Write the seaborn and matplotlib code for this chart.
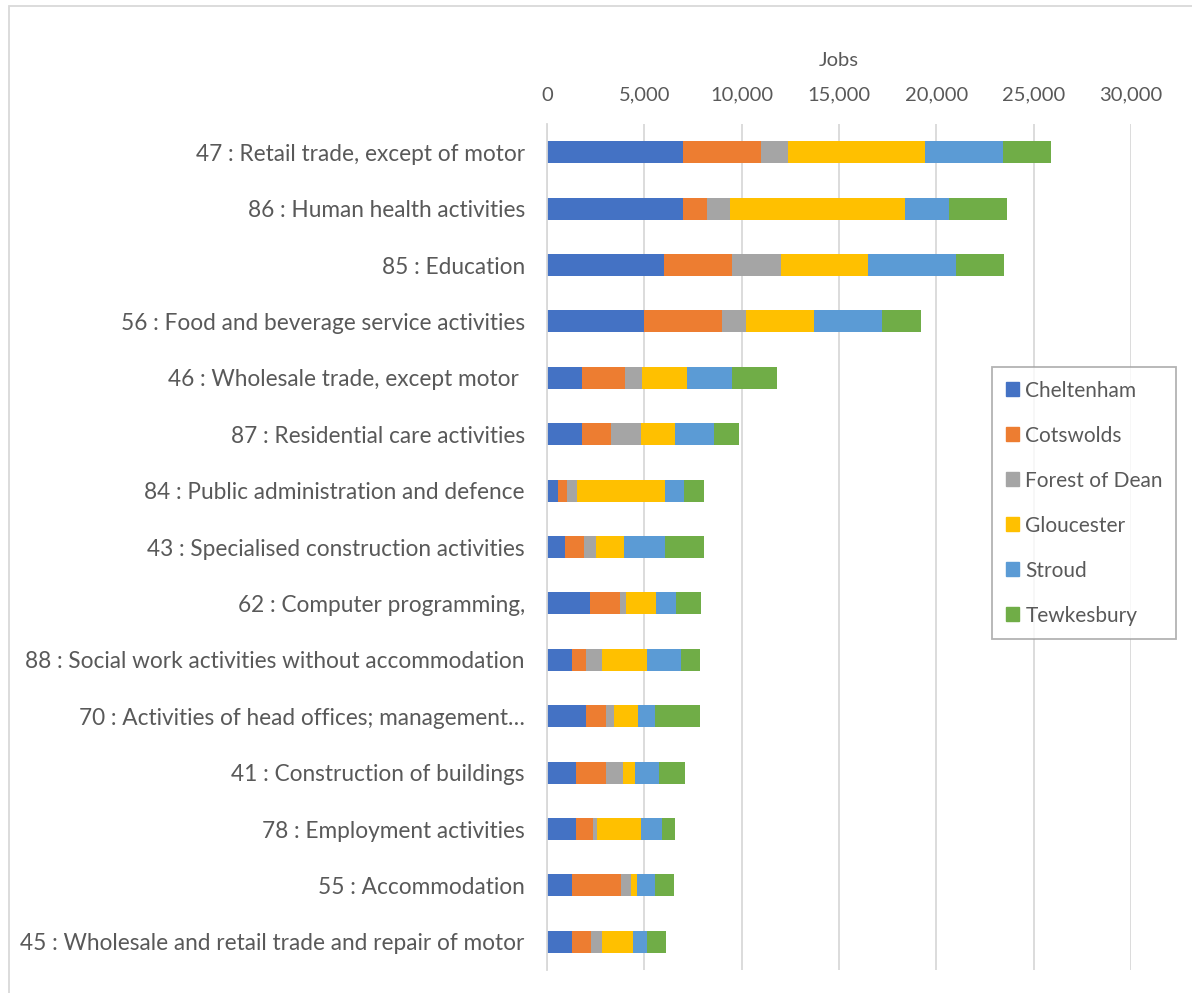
import pandas as pd
import numpy as np
import matplotlib.pyplot as plt
import matplotlib.patches as mpatches
import seaborn as sns

industries = ["47 : Retail trade, except of motor",
              "86 : Human health activities",
              "85 : Education",
              "56 : Food and beverage service activities",
              "46 : Wholesale trade, except motor ",
              "87 : Residential care activities",
              "84 : Public administration and defence",
              "43 : Specialised construction activities",
              "62 : Computer programming,",
              "88 : Social work activities without accommodation",
              "70 : Activities of head offices; management\u2026",
              "41 : Construction of buildings",
              "78 : Employment activities",
              "55 : Accommodation",
              "45 : Wholesale and retail trade and repair of motor"]

districts = ["Cheltenham", "Cotswolds", "Forest of Dean", "Gloucester", "Stroud", "Tewkesbury"]
colors = ["#4472C4", "#ED7D31", "#A5A5A5", "#FFC000", "#5B9BD5", "#70AD47"]

cheltenham = [7000, 7000, 6000, 5000, 1800, 1800, 550, 950, 2200, 1300, 2000, 1500, 1500, 1300, 1300]
cotswolds = [4000, 1200, 3500, 4000, 2200, 1500, 500, 950, 1550, 700, 1050, 1550, 850, 2500, 950]
forest_of_dean = [1400, 1200, 2500, 1200, 900, 1550, 500, 600, 300, 850, 400, 850, 200, 500, 600]
gloucester = [7000, 9000, 4500, 3500, 2300, 1750, 4500, 1450, 1550, 2300, 1250, 600, 2300, 300, 1550]
stroud = [4000, 2250, 4500, 3500, 2300, 2000, 1000, 2100, 1050, 1750, 850, 1250, 1050, 950, 750]
tewkesbury = [2500, 3000, 2500, 2000, 2300, 1250, 1000, 2000, 1250, 950, 2300, 1350, 700, 950, 950]

df = pd.DataFrame({"Industry": industries,
                   "Cheltenham": cheltenham,
                   "Cotswolds": cotswolds,
                   "Forest of Dean": forest_of_dean,
                   "Gloucester": gloucester,
                   "Stroud": stroud,
                   "Tewkesbury": tewkesbury})

# running totals, so the bars can be layered back to front
cum = df[districts].cumsum(axis=1)
cum["Industry"] = df["Industry"]

sns.set_style("white")
plt.rcParams['font.family'] = ['Lato', 'DejaVu Sans']
txt = "#595959"

fig = plt.figure(figsize=(11.92, 9.93), dpi=100)
ax = fig.add_axes([547/1192, 1-970/993, 584/1192, 846/993])

for d, c in reversed(list(zip(districts, colors))):
    sns.barplot(data=cum, x=d, y="Industry", order=industries, color=c,
                orient="h", width=0.39, saturation=1, ax=ax, linewidth=0)

ax.set_xlim(0, 30000)
ax.set_ylim(14.5, -0.5)
ax.set_xticks(np.arange(0, 30001, 5000))
ax.xaxis.set_major_formatter(plt.FuncFormatter(lambda v, p: f"{int(v):,}"))
ax.xaxis.tick_top()
ax.xaxis.set_label_position("top")
ax.set_xlabel("Jobs", fontsize=14.5, color=txt, labelpad=15)
ax.set_ylabel("")
ax.tick_params(axis="x", length=0, labelsize=14.5, colors=txt, pad=14.5)
ax.tick_params(axis="y", length=0, labelsize=16.3, colors=txt, pad=16)
ax.grid(axis="x", color="#D9D9D9", linewidth=1.3)
ax.set_axisbelow(True)
for s in ["top", "right", "bottom"]:
    ax.spines[s].set_visible(False)
ax.spines["left"].set_color("#D9D9D9")
ax.spines["left"].set_linewidth(1.3)

handles = [mpatches.Patch(color=c, label=d) for d, c in zip(districts, colors)]
leg = fig.legend(handles=handles, loc="upper left", bbox_to_anchor=(992/1192, 1-367/993),
                 frameon=True, fontsize=15, handlelength=0.65, handleheight=0.65,
                 handletextpad=0.3, labelspacing=1.2, borderpad=0.65, fancybox=False,
                 borderaxespad=0)
leg.get_frame().set_edgecolor("#A0A0A0")
leg.get_frame().set_linewidth(1.3)
for t in leg.get_texts():
    t.set_color(txt)

# chart area border
fig.patches.append(mpatches.Rectangle((9/1192, -0.01), 1.1, 1-6/993+0.01, transform=fig.transFigure,
                                      fill=False, edgecolor="#D9D9D9", linewidth=1.3))

plt.savefig("out.png", dpi=100)
